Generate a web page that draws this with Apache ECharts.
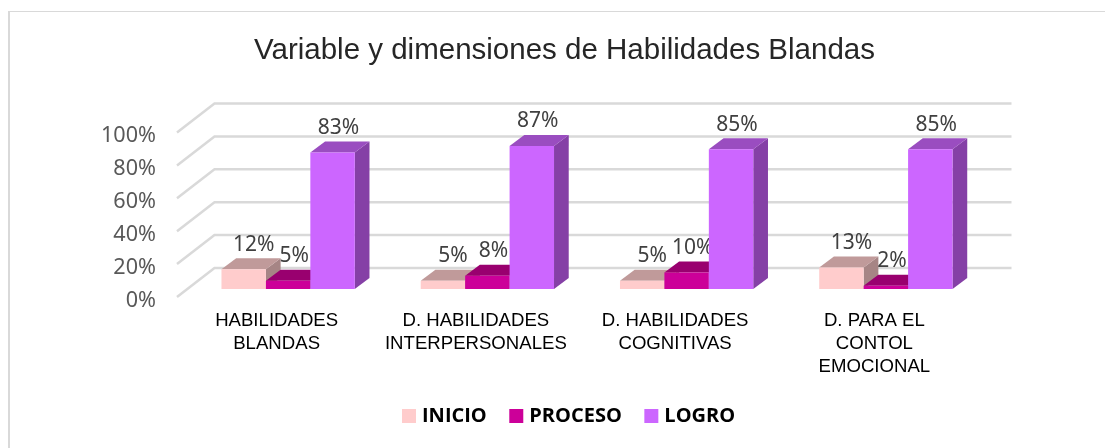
<!DOCTYPE html>
<html>
<head>
<meta charset="utf-8">
<style>
  html, body { margin: 0; padding: 0; background: #fff; }
  #chart { width: 1105px; height: 448px; }
</style>
<script src="https://cdn.jsdelivr.net/npm/echarts@6/dist/echarts.min.js"></script>
</head>
<body>
<div id="chart"></div>
<script>
const categories = [
  'HABILIDADES\nBLANDAS',
  'D. HABILIDADES\nINTERPERSONALES',
  'D. HABILIDADES\nCOGNITIVAS',
  'D. PARA EL\nCONTOL\nEMOCIONAL',
];
const inicio = [12, 5, 5, 13];
const proceso = [5, 8, 10, 2];
const logro = [83, 87, 85, 85];
const yTicks = [0, 20, 40, 60, 80, 100];

const chart = echarts.init(document.getElementById('chart'));

// fake 3D: back wall offset, and where the bars stand inside the depth
const WALL = { dx: 37.5, dy: -29 };
const BAR_SHIFT = { dx: 11.5, dy: -8 };
const BAR_DEPTH = { dx: 14.7, dy: -11 };
const LABEL_FONT = '"Noto Sans", sans-serif';

function wallItem(params, api) {
  const sys = params.coordSys;
  const y = api.coord([0, api.value(0)])[1];
  return {
    type: 'polyline',
    shape: {
      points: [
        [sys.x, y],
        [sys.x + WALL.dx, y + WALL.dy],
        [sys.x + sys.width + WALL.dx, y + WALL.dy],
      ],
    },
    style: { stroke: '#d9d9d9', lineWidth: 2.5, fill: null },
  };
}

function barRenderer(slot, colors, labelDx) {
  return function (params, api) {
    const idx = api.value(0);
    const val = api.value(1);
    const top = api.coord([idx, val]);
    const base = api.coord([idx, 0]);
    const w = api.size([1, 0])[0] * 0.223;
    const x0 = top[0] + BAR_SHIFT.dx + (slot - 1.5) * w;
    const x1 = x0 + w;
    const yTop = top[1] + BAR_SHIFT.dy;
    const yBase = base[1] + BAR_SHIFT.dy;
    const d = BAR_DEPTH;
    return {
      type: 'group',
      children: [
        {
          type: 'polygon',
          shape: { points: [[x1, yTop], [x1 + d.dx, yTop + d.dy], [x1 + d.dx, yBase + d.dy], [x1, yBase]] },
          style: { fill: colors.side },
        },
        {
          type: 'polygon',
          shape: { points: [[x0, yTop], [x0 + d.dx, yTop + d.dy], [x1 + d.dx, yTop + d.dy], [x1, yTop]] },
          style: { fill: colors.top },
        },
        {
          type: 'rect',
          shape: { x: x0, y: yTop, width: w, height: yBase - yTop },
          style: { fill: colors.front },
        },
        {
          type: 'text',
          z2: 50,
          style: {
            text: val + '%',
            x: top[0] + BAR_SHIFT.dx + (slot - 1) * w + labelDx,
            y: top[1] - 32.5,
            align: 'center',
            verticalAlign: 'middle',
            fill: '#404040',
            font: '21px ' + LABEL_FONT,
          },
        },
      ],
    };
  };
}

function barSeries(name, values, slot, colors, labelDx) {
  return {
    name,
    type: 'custom',
    coordinateSystem: 'cartesian2d',
    itemStyle: { color: colors.front },
    encode: { x: 0, y: 1 },
    data: values.map((v, i) => [i, v]),
    renderItem: barRenderer(slot, colors, labelDx),
    z: 3 + slot,
  };
}

const option = {
  animation: false,
  backgroundColor: '#fff',
  title: {
    text: 'Variable y dimensiones de Habilidades Blandas',
    left: 254,
    top: 36,
    textStyle: {
      fontFamily: '"Liberation Sans", Arial, sans-serif',
      fontSize: 29.5,
      fontWeight: 'normal',
      color: '#262626',
    },
    padding: 0,
  },
  legend: {
    data: ['INICIO', 'PROCESO', 'LOGRO'],
    left: 402,
    top: 406,
    padding: 0,
    icon: 'rect',
    itemWidth: 14,
    itemHeight: 14,
    itemGap: 22.5,
    textStyle: {
      fontFamily: '"Open Sans", sans-serif',
      fontSize: 20,
      fontWeight: 'bold',
      color: '#000',
      padding: [0, 0, 0, 1],
    },
  },
  grid: { left: 177, top: 132.5, width: 797, height: 164.5 },
  xAxis: {
    type: 'category',
    data: categories,
    axisLine: { show: false },
    axisTick: { show: false },
    axisLabel: {
      interval: 0,
      margin: 12,
      fontFamily: '"Liberation Sans", Arial, sans-serif',
      fontSize: 18.6,
      lineHeight: 23,
      color: '#000',
    },
  },
  yAxis: {
    type: 'value',
    min: 0,
    max: 100,
    interval: 20,
    axisLine: { show: false },
    axisTick: { show: false },
    splitLine: { show: false },
    axisLabel: {
      margin: 21,
      verticalAlign: 'top',
      lineHeight: 7,
      formatter: '{value}%',
      fontFamily: LABEL_FONT,
      fontSize: 21.6,
      color: '#595959',
    },
  },
  graphic: [
    { type: 'line', silent: true, shape: { x1: 9, y1: 11, x2: 9, y2: 448 }, style: { stroke: '#d9d9d9', lineWidth: 2 } },
    { type: 'line', silent: true, shape: { x1: 9, y1: 11.5, x2: 1105, y2: 11.5 }, style: { stroke: '#d9d9d9', lineWidth: 1 } },
  ],
  series: [
    {
      name: 'wall',
      type: 'custom',
      coordinateSystem: 'cartesian2d',
      encode: { y: 0 },
      data: yTicks.map((v) => [v]),
      renderItem: wallItem,
      silent: true,
      z: 1,
    },
    barSeries('INICIO', inicio, 0, { front: '#ffcccc', top: '#c09a9a', side: '#a68585' }, 10),
    barSeries('PROCESO', proceso, 1, { front: '#cc0099', top: '#99006f', side: '#85005f' }, 6),
    barSeries('LOGRO', logro, 2, { front: '#cc66ff', top: '#9a4dc0', side: '#8540a6' }, 6),
  ],
};

chart.setOption(option);

window.addEventListener('resize', () => chart.resize());
</script>
</body>
</html>
